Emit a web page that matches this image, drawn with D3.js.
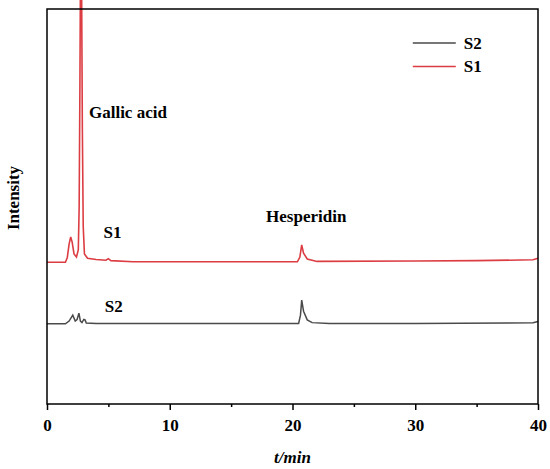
<!DOCTYPE html>
<html>
<head>
<meta charset="utf-8">
<script src="https://d3js.org/d3.v7.min.js"></script>
<style>
  body { margin: 0; background: #fff; }
</style>
</head>
<body>
<svg id="chart" width="550" height="469" font-family="'Liberation Serif', 'Times New Roman', serif" font-weight="bold"></svg>
<script>
// chromatogram S1: [t (min), intensity (a.u.)]
var s1Points = [
  [0, 35.9], [1.5, 35.9], [1.65, 37], [1.8, 40.5], [1.93, 42.3], [2.05, 41], [2.2, 38],
  [2.4, 37.2], [2.55, 39], [2.62, 50], [2.68, 80], [2.72, 105], [2.82, 105], [2.88, 70],
  [2.95, 45], [3.05, 38], [3.3, 36.9], [4, 36.6], [4.8, 36.4], [5.0, 36.8], [5.2, 36.3],
  [7, 36.0], [12, 36.0], [20.4, 36.0], [20.6, 37.2], [20.75, 40.3], [20.9, 38.2],
  [21.2, 36.7], [22, 36.1], [30, 36.2], [35, 36.3], [39.6, 36.5], [40, 36.9]
];

// chromatogram S2
var s2Points = [
  [0, 20.3], [1.5, 20.3], [1.8, 21], [2.0, 22], [2.1, 22.5], [2.3, 21], [2.45, 21.4],
  [2.6, 23], [2.72, 21], [2.85, 20.6], [3.0, 21.4], [3.1, 21.3], [3.2, 20.5], [4, 20.4],
  [10, 20.4], [20.5, 20.4], [20.65, 22.5], [20.75, 26.3], [20.9, 23.5], [21.2, 21.3],
  [21.6, 20.6], [23, 20.4], [30, 20.4], [37.5, 20.5], [39.6, 20.6], [40, 20.9]
];

var xTicks = [0, 10, 20, 30, 40];
var xMinorTicks = [5, 15, 25, 35];
var seriesNames = ["S2", "S1"];
var seriesColors = ["#4a4a4a", "#dc3d43"];

var serif = "'Liberation Serif', 'Times New Roman', serif";
var fs = 17;

var margin = {top: 9, right: 12, bottom: 65, left: 47};
var width = 550 - margin.left - margin.right;
var height = 469 - margin.top - margin.bottom;

var svg = d3.select("#chart");
var chart = svg.append("g")
  .attr("transform", "translate(" + margin.left + "," + margin.top + ")");

var x = d3.scaleLinear().domain([0, 40]).range([0, width]);
var y = d3.scaleLinear().domain([0, 100]).range([height, 0]);

var line = d3.line()
  .x(function(d) { return x(d[0]); })
  .y(function(d) { return y(d[1]); });

// data lines
chart.append("path").datum(s2Points)
  .attr("d", line).attr("fill", "none")
  .attr("stroke", seriesColors[0]).attr("stroke-width", 1.5);
chart.append("path").datum(s1Points)
  .attr("d", line).attr("fill", "none")
  .attr("stroke", seriesColors[1]).attr("stroke-width", 1.6);

// frame
chart.append("rect")
  .attr("width", width).attr("height", height)
  .attr("fill", "none").attr("stroke", "#000").attr("stroke-width", 1.5);

// bottom axis
var xAxis = chart.append("g")
  .attr("transform", "translate(0," + height + ")")
  .call(d3.axisBottom(x).tickValues(xTicks).tickSize(6).tickPadding(9))
  .attr("font-family", serif)
  .attr("font-size", fs)
  .attr("font-weight", "bold");
xAxis.select(".domain").remove();
xAxis.selectAll("line").attr("stroke-width", 1.5);
xAxis.selectAll("text").attr("fill", "#000");

chart.append("g")
  .attr("transform", "translate(0," + height + ")")
  .call(d3.axisBottom(x).tickValues(xMinorTicks).tickSize(3).tickFormat(""))
  .call(function(g) { g.select(".domain").remove(); })
  .selectAll("line").attr("stroke-width", 1.5);

// axis titles
svg.append("text")
  .attr("x", 292.5).attr("y", 463)
  .attr("text-anchor", "middle")
  .attr("font-size", fs).attr("font-style", "italic")
  .text("t/min");

svg.append("text")
  .attr("transform", "translate(19,198) rotate(-90)")
  .attr("text-anchor", "middle")
  .attr("font-size", fs)
  .text("Intensity");

// peak labels
chart.append("text").attr("x", x(3.42)).attr("y", y(72.4)).attr("font-size", fs).text("Gallic acid");
chart.append("text").attr("x", x(4.6)).attr("y", y(42.0)).attr("font-size", fs).text("S1");
chart.append("text").attr("x", x(4.7)).attr("y", y(23.3)).attr("font-size", fs).text("S2");
chart.append("text").attr("x", x(17.85)).attr("y", y(46.2)).attr("font-size", fs).text("Hesperidin");

// legend
var legend = chart.selectAll(".legend")
  .data(seriesNames)
  .enter().append("g")
  .attr("class", "legend")
  .attr("transform", function(d, i) { return "translate(" + x(29.8) + "," + (34 + i * 23.5) + ")"; });
legend.append("line")
  .attr("x1", 0).attr("x2", 43)
  .attr("stroke", function(d, i) { return seriesColors[i]; })
  .attr("stroke-width", 1.6);
legend.append("text")
  .attr("x", 51).attr("dy", "0.35em")
  .attr("font-size", fs)
  .text(function(d) { return d; });
</script>
</body>
</html>
